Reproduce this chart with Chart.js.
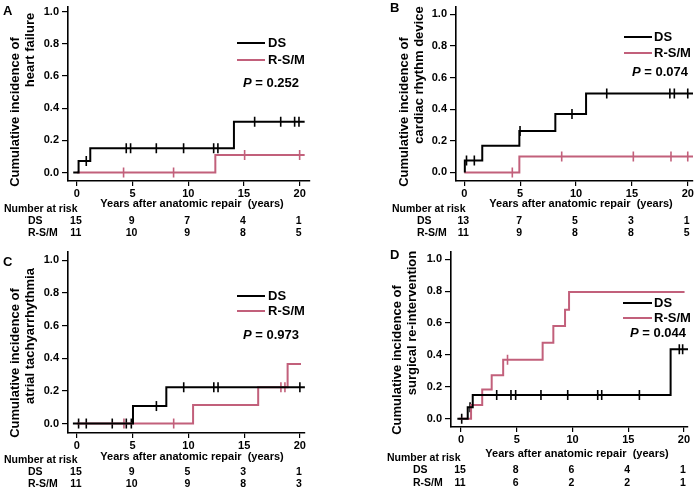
<!DOCTYPE html>
<html>
<head>
<meta charset="utf-8">
<title>Cumulative incidence curves</title>
<script src="https://cdn.jsdelivr.net/npm/chart.js@4/dist/chart.umd.min.js"></script>
<style>
  body { margin: 0; background: #fff; }
  #wrap { position: relative; width: 700px; height: 490px; }
  #wrap canvas { position: absolute; }
</style>
</head>
<body>
<div id="wrap">
  <canvas id="chartA" width="350" height="245" style="left:0;top:0"></canvas>
  <canvas id="chartB" width="350" height="245" style="left:350px;top:0"></canvas>
  <canvas id="chartC" width="350" height="245" style="left:0;top:245px"></canvas>
  <canvas id="chartD" width="350" height="245" style="left:350px;top:245px"></canvas>
</div>
<script>
// shared axis ticks and risk table columns
const xTickVals = [0, 5, 10, 15, 20];
const yTickVals = [0, 0.2, 0.4, 0.6, 0.8, 1.0];
const riskTimes = [0, 5, 10, 15, 20];
const groupNames = ['DS', 'R-S/M'];

// A - heart failure
const aDsTimes = [-0.33, 0.15, 1.2, 14.1, 20.45];
const aDsInc = [0, 0.071, 0.15, 0.315, 0.315];
const aDsCens = [0.84, 4.43, 4.82, 7.13, 9.58, 12.28, 12.66, 15.96, 18.3, 19.55, 19.94];
const aRsmTimes = [0, 12.43, 20.45];
const aRsmInc = [0, 0.109, 0.109];
const aRsmCens = [4.19, 8.68, 15.06, 20.0];
const aDsRisk = [15, 9, 7, 4, 1];
const aRsmRisk = [11, 10, 9, 8, 5];

// B - cardiac rhythm device
const bDsTimes = [0.05, 0.05, 1.61, 4.93, 8.15, 10.9, 20.5];
const bDsInc = [0, 0.076, 0.169, 0.262, 0.369, 0.499, 0.499];
const bDsCens = [0.2, 0.9, 4.99, 9.64, 12.75, 18.4, 18.8, 20.0];
const bRsmTimes = [0, 4.93, 20.5];
const bRsmInc = [0, 0.101, 0.101];
const bRsmCens = [4.3, 8.72, 15.13, 18.5, 20.0];
const bDsRisk = [13, 7, 5, 3, 1];
const bRsmRisk = [11, 9, 8, 8, 5];

// C - atrial tachyarrhythmia
const cDsTimes = [-0.36, 5.03, 8.02, 20.45];
const cDsInc = [0, 0.107, 0.222, 0.222];
const cDsCens = [0.15, 0.84, 3.17, 4.43, 4.88, 7.13, 9.58, 12.28, 12.66, 20.0];
const cRsmTimes = [0, 10.42, 16.26, 18.9, 20.1];
const cRsmInc = [0, 0.113, 0.222, 0.365, 0.365];
const cRsmCens = [4.22, 8.68, 18.3, 18.66];
const cDsRisk = [15, 9, 5, 3, 1];
const cRsmRisk = [11, 10, 9, 8, 3];

// D - surgical re-intervention
const dDsTimes = [-0.33, 0.6, 1.05, 18.8, 20.5];
const dDsInc = [0, 0.072, 0.148, 0.435, 0.435];
const dDsCens = [0.06, 0.81, 3.2, 4.48, 4.9, 7.17, 9.57, 12.26, 12.62, 16.0, 19.58, 19.88];
const dRsmTimes = [-0.2, 0.9, 1.9, 2.75, 3.78, 7.32, 8.28, 9.33, 9.69, 20.05];
const dRsmInc = [0, 0.086, 0.183, 0.273, 0.37, 0.476, 0.581, 0.684, 0.795, 0.795];
const dRsmCens = [4.17];
const dDsRisk = [15, 8, 6, 4, 1];
const dRsmRisk = [11, 6, 2, 2, 1];

const pValues = ['0.252', '0.074', '0.973', '0.044'];

const BLACK = '#000000';
const PINK = '#c2607b';
const FONT = "'Liberation Sans', Arial, sans-serif";

// value of the step curve at time t
function stepAt(times, inc, t) {
    let v = inc[0];
    for (let i = 0; i < times.length; i++) {
        if (times[i] <= t) v = inc[i];
    }
    return v;
}

function curveData(times, inc) {
    return times.map((t, i) => ({ x: t, y: inc[i] }));
}

function censData(times, inc, cens) {
    return cens.map(t => ({ x: t, y: stepAt(times, inc, t) }));
}

// draws titles, legend, p value and number-at-risk table
const textPlugin = {
    id: 'panelText',
    afterDraw(chart, args, o) {
        const ctx = chart.ctx;
        const xs = chart.scales.x;
        ctx.save();
        ctx.fillStyle = BLACK;

        // panel letter
        ctx.font = 'bold 13px ' + FONT;
        ctx.textAlign = 'left';
        ctx.textBaseline = 'middle';
        ctx.fillText(o.letter, o.letterPos[0], o.letterPos[1]);

        // y axis title, two rotated lines
        ctx.font = 'bold 13px ' + FONT;
        ctx.textAlign = 'center';
        o.yTitle.forEach((line, i) => {
            ctx.save();
            ctx.translate(o.yTitlePos[i][0], o.yTitlePos[i][1]);
            ctx.rotate(-Math.PI / 2);
            ctx.fillText(line, 0, 0);
            ctx.restore();
        });

        // x axis title
        ctx.font = 'bold 11px ' + FONT;
        ctx.fillText('Years after anatomic repair  (years)', o.xTitlePos[0], o.xTitlePos[1]);

        // legend
        const lg = o.legend;
        [BLACK, PINK].forEach((col, i) => {
            const y = i === 0 ? lg.y1 : lg.y2;
            ctx.strokeStyle = col;
            ctx.lineWidth = 2;
            ctx.beginPath();
            ctx.moveTo(lg.x1, y);
            ctx.lineTo(lg.x2, y);
            ctx.stroke();
            ctx.font = 'bold 13px ' + FONT;
            ctx.textAlign = 'left';
            ctx.fillText(groupNames[i], lg.textX, y + 0.5);
        });

        // p value
        ctx.font = 'italic bold 13px ' + FONT;
        ctx.fillText('P', o.pPos[0], o.pPos[1]);
        const pw = ctx.measureText('P').width;
        ctx.font = 'bold 13px ' + FONT;
        ctx.fillText(' = ' + o.p, o.pPos[0] + pw, o.pPos[1]);

        // number at risk table
        const r = o.risk;
        ctx.font = 'bold 10.5px ' + FONT;
        ctx.textAlign = 'left';
        ctx.fillText('Number at risk', r.headX, r.y[0]);
        ctx.fillText(groupNames[0], r.labelX, r.y[1]);
        ctx.fillText(groupNames[1], r.labelX, r.y[2]);
        ctx.textAlign = 'center';
        riskTimes.forEach((t, i) => {
            const px = xs.getPixelForValue(t) - 1;
            ctx.fillText(String(r.ds[i]), px, r.y[1]);
            ctx.fillText(String(r.rsm[i]), px, r.y[2]);
        });
        ctx.restore();
    }
};

function createPanel(canvasId, p) {
    const canvas = document.getElementById(canvasId);
    if (!canvas) return;
    const ctx = canvas.getContext('2d');

    new Chart(ctx, {
        type: 'line',
        data: {
            datasets: [
                {
                    label: 'DS',
                    data: curveData(p.dsT, p.dsV),
                    stepped: 'before',
                    borderColor: BLACK,
                    borderWidth: 2,
                    pointRadius: 0
                },
                {
                    label: 'R-S/M',
                    data: curveData(p.rsmT, p.rsmV),
                    stepped: 'before',
                    borderColor: PINK,
                    borderWidth: 2,
                    pointRadius: 0
                },
                {
                    type: 'scatter',
                    label: 'DS censored',
                    data: censData(p.dsT, p.dsV, p.dsC),
                    pointStyle: 'line',
                    rotation: 90,
                    radius: 5,
                    borderColor: BLACK,
                    borderWidth: 1.6
                },
                {
                    type: 'scatter',
                    label: 'R-S/M censored',
                    data: censData(p.rsmT, p.rsmV, p.rsmC),
                    pointStyle: 'line',
                    rotation: 90,
                    radius: 5,
                    borderColor: PINK,
                    borderWidth: 1.6
                }
            ]
        },
        options: {
            responsive: false,
            animation: false,
            events: [],
            layout: {
                padding: { left: 0, top: p.area.t, right: 350 - p.area.r, bottom: 0 }
            },
            scales: {
                x: {
                    type: 'linear',
                    min: p.xMin,
                    max: p.xMax,
                    afterBuildTicks: s => { s.ticks = xTickVals.map(v => ({ value: v })); },
                    afterFit: s => {
                        s.height = 245 - p.area.b;
                        s.paddingLeft = 0;
                        s.paddingRight = 0;
                    },
                    ticks: {
                        autoSkip: false,
                        maxRotation: 0,
                        padding: 1,
                        color: BLACK,
                        font: { family: FONT, size: 11, weight: 'bold' }
                    },
                    grid: { drawOnChartArea: false, tickLength: 5, color: BLACK, lineWidth: 1.2 },
                    border: { display: true, color: BLACK, width: 1.6 }
                },
                y: {
                    type: 'linear',
                    min: p.yMin,
                    max: p.yMax,
                    afterBuildTicks: s => { s.ticks = yTickVals.map(v => ({ value: v })); },
                    afterFit: s => {
                        s.width = p.area.l;
                        s.paddingTop = 0;
                        s.paddingBottom = 0;
                    },
                    ticks: {
                        autoSkip: false,
                        padding: 3,
                        color: BLACK,
                        font: { family: FONT, size: 11, weight: 'bold' },
                        callback: v => v.toFixed(1)
                    },
                    grid: { drawOnChartArea: false, tickLength: 6, color: BLACK, lineWidth: 1.2 },
                    border: { display: true, color: BLACK, width: 1.6 }
                }
            },
            plugins: {
                legend: { display: false },
                tooltip: { enabled: false },
                panelText: p.text
            }
        },
        plugins: [textPlugin]
    });
}

document.addEventListener('DOMContentLoaded', () => {
    createPanel('chartA', {
        dsT: aDsTimes, dsV: aDsInc, dsC: aDsCens,
        rsmT: aRsmTimes, rsmV: aRsmInc, rsmC: aRsmCens,
        area: { l: 68, t: 3, r: 310, b: 181 },
        xMin: -0.8, xMax: 20.93, yMin: -0.053, yMax: 1.032,
        text: {
            letter: 'A', letterPos: [3, 11],
            yTitle: ['Cumulative incidence of', 'heart failure'],
            yTitlePos: [[15, 112], [30, 50]],
            xTitlePos: [192, 204],
            legend: { x1: 237, x2: 265, y1: 43, y2: 60, textX: 268 },
            p: pValues[0], pPos: [243, 83],
            risk: { ds: aDsRisk, rsm: aRsmRisk, headX: 4, labelX: 28, y: [209, 221, 233] }
        }
    });

    createPanel('chartB', {
        dsT: bDsTimes, dsV: bDsInc, dsC: bDsCens,
        rsmT: bRsmTimes, rsmV: bRsmInc, rsmC: bRsmCens,
        area: { l: 106, t: 2, r: 343, b: 181 },
        xMin: -0.74, xMax: 20.47, yMin: -0.054, yMax: 1.048,
        text: {
            letter: 'B', letterPos: [40, 8],
            yTitle: ['Cumulative incidence of', 'cardiac rhythm device'],
            yTitlePos: [[54, 112], [69, 75]],
            xTitlePos: [231, 204],
            legend: { x1: 274, x2: 302, y1: 37, y2: 53, textX: 304 },
            p: pValues[1], pPos: [282, 72],
            risk: { ds: bDsRisk, rsm: bRsmRisk, headX: 42, labelX: 67, y: [209, 221, 233] }
        }
    });

    createPanel('chartC', {
        dsT: cDsTimes, dsV: cDsInc, dsC: cDsCens,
        rsmT: cRsmTimes, rsmV: cRsmInc, rsmC: cRsmCens,
        area: { l: 68, t: 7, r: 305, b: 188 },
        xMin: -0.8, xMax: 20.46, yMin: -0.058, yMax: 1.05,
        text: {
            letter: 'C', letterPos: [3, 17],
            yTitle: ['Cumulative incidence of', 'atrial tachyarrhythmia'],
            yTitlePos: [[15, 118], [30, 91]],
            xTitlePos: [192, 212],
            legend: { x1: 237, x2: 265, y1: 51, y2: 66, textX: 268 },
            p: pValues[2], pPos: [243, 90],
            risk: { ds: cDsRisk, rsm: cRsmRisk, headX: 4, labelX: 28, y: [215, 227, 239] }
        }
    });

    createPanel('chartD', {
        dsT: dDsTimes, dsV: dDsInc, dsC: dDsCens,
        rsmT: dRsmTimes, rsmV: dRsmInc, rsmC: dRsmCens,
        area: { l: 101, t: 3, r: 338, b: 182 },
        xMin: -0.9, xMax: 20.36, yMin: -0.052, yMax: 1.048,
        text: {
            letter: 'D', letterPos: [40, 10],
            yTitle: ['Cumulative incidence of', 'surgical re-intervention'],
            yTitlePos: [[47, 115], [62, 78]],
            xTitlePos: [227, 209],
            legend: { x1: 273, x2: 302, y1: 58, y2: 73, textX: 304 },
            p: pValues[3], pPos: [280, 88],
            risk: { ds: dDsRisk, rsm: dRsmRisk, headX: 37, labelX: 63, y: [213, 225, 238] }
        }
    });
});
</script>
</body>
</html>
